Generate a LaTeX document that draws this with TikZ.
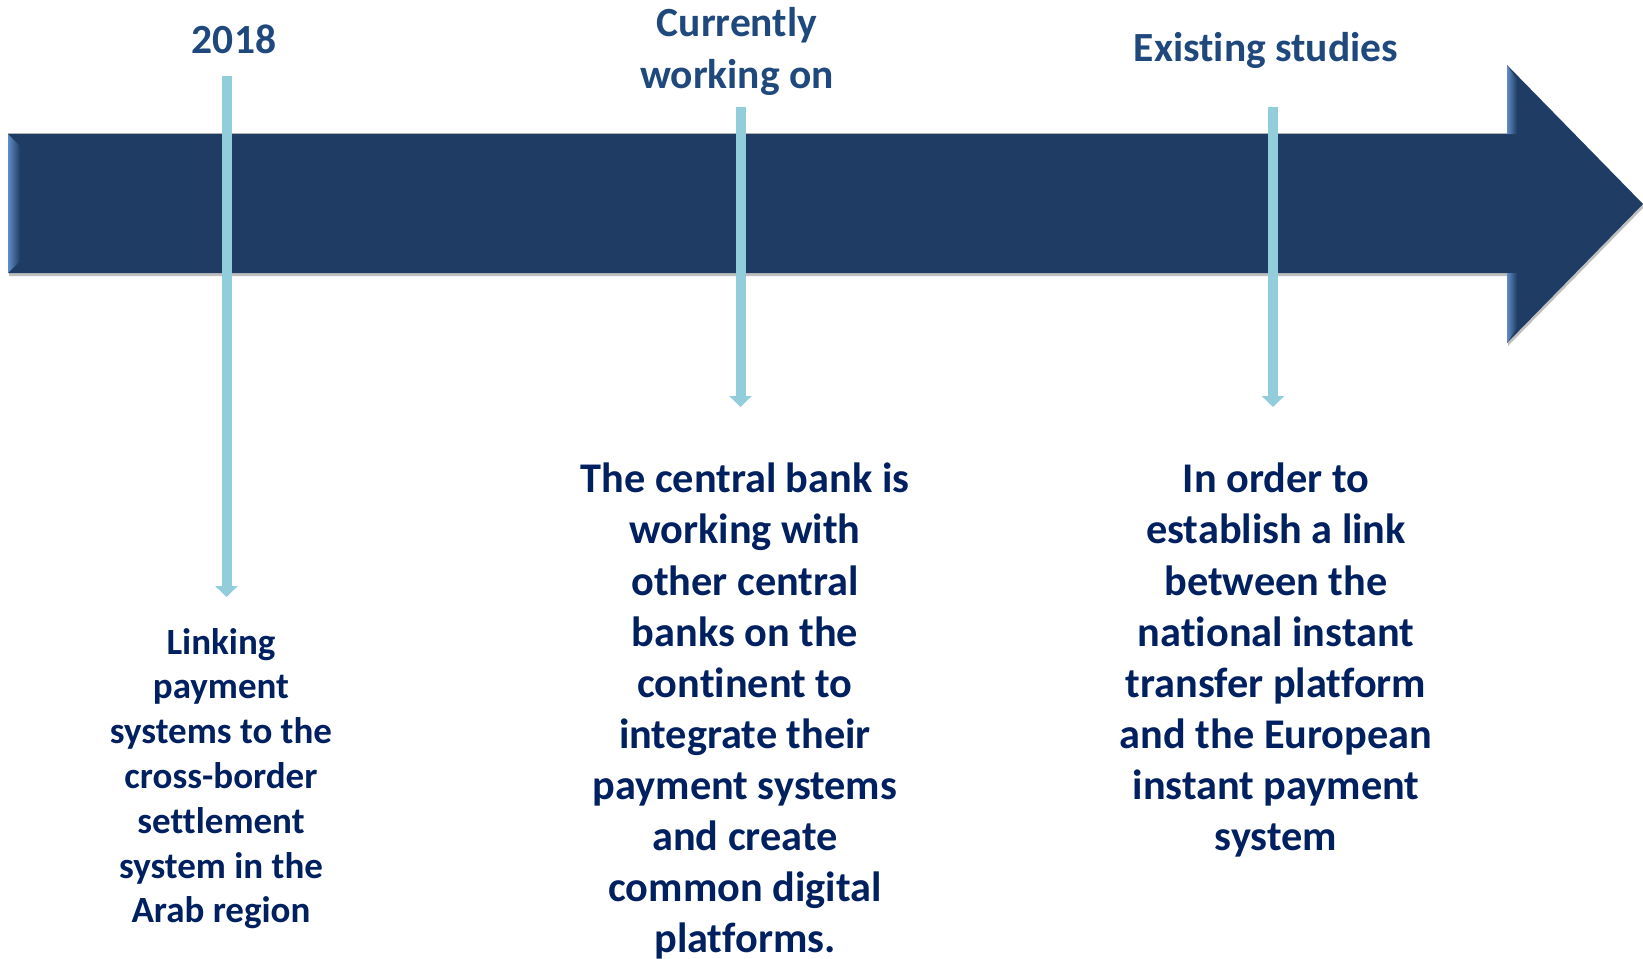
\documentclass[tikz,border=0pt]{standalone}
\usepackage{fontspec}
\setmainfont{Carlito}[Ligatures=NoCommon]
\usetikzlibrary{arrows.meta}
\definecolor{arrowblue}{RGB}{31,61,100}
\definecolor{bevellight}{RGB}{96,140,196}
\definecolor{linkblue}{RGB}{146,205,220}
\definecolor{labelblue}{RGB}{31,73,125}
\definecolor{bodyblue}{RGB}{0,32,96}
\tikzset{
  toplabel/.style={font=\bfseries\fontsize{41.5}{52.4}\selectfont, text=labelblue, align=center, inner sep=0pt},
  bodytext/.style={font=\bfseries\fontsize{42.3}{51.1}\selectfont, text=bodyblue, align=center, inner sep=0pt, anchor=north},
  smalltext/.style={font=\bfseries\fontsize{37}{44.8}\selectfont, text=bodyblue, align=center, inner sep=0pt, anchor=north},
  stemline/.style={draw=linkblue, line width=10pt, -{Triangle[width=22pt,length=11pt]}},
}
\begin{document}
\begin{tikzpicture}[x=1pt,y=-1pt]
\useasboundingbox (0,0) rectangle (1643,958);
% shadow
\fill[black, opacity=0.25] (9,137) -- (1508,137) -- (1508,68) -- (1644,207) -- (1508,346) -- (1508,276) -- (9,276) -- cycle;
% main arrow
\fill[arrowblue] (8,134) -- (1507,134) -- (1507,65) -- (1643,204) -- (1507,343) -- (1507,273) -- (8,273) -- cycle;
% bevels
\shade[left color=bevellight, right color=arrowblue] (8,134) -- (20,146) -- (20,261) -- (8,273) -- cycle;
\shade[left color=bevellight, right color=arrowblue] (1507,65) -- (1517,80) -- (1517,134) -- (1507,134) -- cycle;
\shade[left color=bevellight, right color=arrowblue] (1507,273) -- (1517,273) -- (1517,328) -- (1507,343) -- cycle;
\draw[gray!60, line width=1pt] (8,133.5) -- (1507,133.5);
% stems
\coordinate (s1top) at (226.5,76);
\coordinate (s1bot) at (226.5,597);
\coordinate (s2top) at (740.5,107);
\coordinate (s2bot) at (740.5,407);
\coordinate (s3top) at (1273,107);
\coordinate (s3bot) at (1273,407);
\draw[stemline] (s1top) -- (s1bot);
\draw[stemline] (s2top) -- (s2bot);
\draw[stemline] (s3top) -- (s3bot);
% top labels
\node[toplabel, anchor=base] (l1) at (234,53) {2018};
\node[toplabel, anchor=north] (l2) at (737,7) {Currently\\working on};
\node[toplabel, anchor=base] (l3) at (1266,62) {Existing studies};
% texts
\node[smalltext] (t1) at (221,628) {Linking\\payment\\systems to the\\cross-border\\settlement\\system in the\\Arab region};
\node[bodytext] (t2) at (745,463) {The central bank is\\working with\\other central\\banks on the\\continent to\\integrate their\\payment systems\\and create\\common digital\\platforms.};
\node[bodytext] (t3) at (1276,463) {In order to\\establish a link\\between the\\national instant\\transfer platform\\and the European\\instant payment\\system};
\end{tikzpicture}
\end{document}
